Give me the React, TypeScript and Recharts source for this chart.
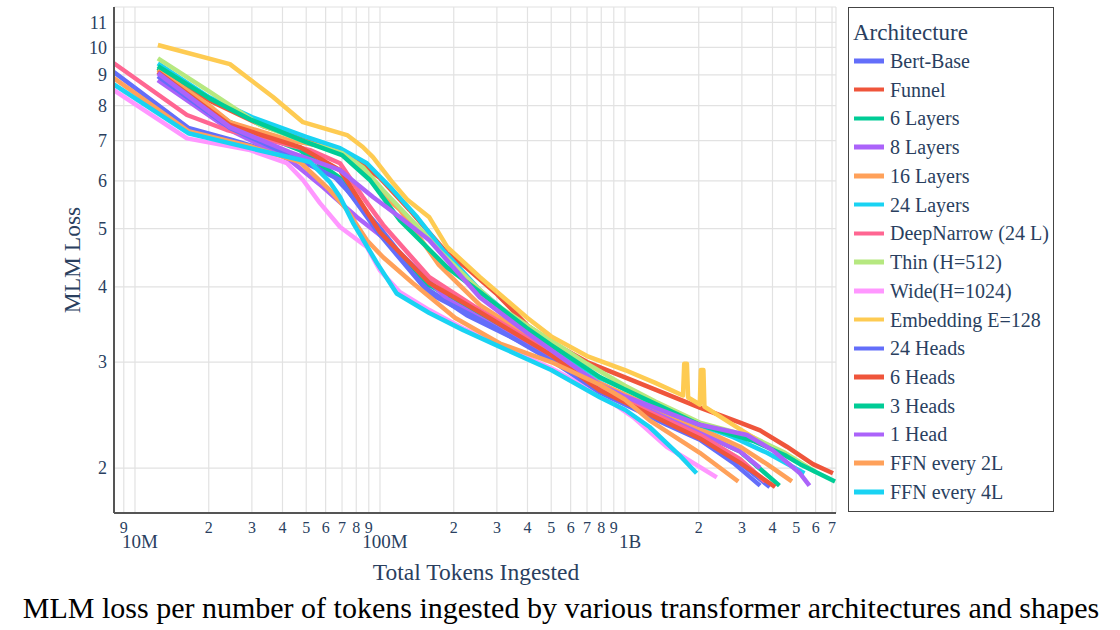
import { LineChart, Line, XAxis, YAxis, CartesianGrid } from "recharts";

type Pt = [number, number];

// [tokens ingested (millions), MLM loss]
const bertBase: Pt[] = [[8.2, 9.1], [16.5, 7.35], [25.1, 7.01], [47.1, 6.5], [62.5, 6.2], [73.4, 5.79], [100, 5.01], [159, 3.95], [226, 3.59], [400, 3.2], [500, 3.04], [792, 2.67], [1000, 2.58], [1480, 2.4], [2020, 2.25], [2770, 2.08], [3900, 1.86]];
const funnel: Pt[] = [[12.4, 9.24], [20, 8.17], [33.3, 7.4], [50, 7.01], [70, 6.75], [100, 6.07], [132, 5.37], [188, 4.55], [226, 4.3], [300, 3.89], [400, 3.45], [500, 3.24], [700, 3.0], [1000, 2.83], [1330, 2.7], [2020, 2.52], [2950, 2.38], [3560, 2.31], [4580, 2.17], [5850, 2.03], [7060, 1.96]];
const sixLayers: Pt[] = [[12.4, 9.24], [24.4, 7.51], [47.1, 6.75], [68.7, 6.07], [100, 4.93], [159, 4.03], [256, 3.59], [500, 3.02], [792, 2.7], [1080, 2.59], [2020, 2.29], [2950, 2.13], [4270, 1.87]];
const eightLayers: Pt[] = [[12.4, 8.82], [24.4, 7.29], [42.8, 6.5], [58.5, 5.86], [80.6, 5.22], [110, 4.73], [188, 3.82], [300, 3.42], [500, 3.06], [792, 2.72], [2020, 2.29], [2950, 2.13], [3560, 2.0]];
const sixteenLayers: Pt[] = [[12.4, 9.17], [20, 8.02], [24.4, 7.51], [42.8, 7.01], [64.3, 6.8], [80.6, 6.42], [103, 5.68], [120.7, 5.37], [174, 4.35], [256, 3.73], [400, 3.32], [500, 3.08], [792, 2.77], [1000, 2.65], [2020, 2.33], [2950, 2.17], [3800, 2.03], [4800, 1.9]];
const twentyFourLayers: Pt[] = [[12.4, 9.41], [20, 8.27], [30, 7.66], [50, 7.1], [68.7, 6.8], [88.4, 6.42], [110, 5.86], [142, 5.22], [181, 4.6], [256, 3.95], [330, 3.62], [500, 3.16], [792, 2.82], [1080, 2.67], [1480, 2.48], [2020, 2.36], [2770, 2.25], [3800, 2.12], [5400, 1.96]];
const deepNarrow: Pt[] = [[8.2, 9.41], [16.3, 7.72], [23.7, 7.29], [35.5, 7.01], [51.8, 6.75], [68.7, 6.42], [85.1, 5.64], [103, 5.07], [159, 4.15], [256, 3.66], [500, 3.11], [792, 2.7], [2020, 2.27], [2950, 2.07], [3730, 1.9]];
const thin: Pt[] = [[12.4, 9.59], [20, 8.46], [32.4, 7.43], [50, 6.96], [70, 6.67], [85.1, 6.32], [103, 5.79], [150, 4.93], [174, 4.6], [232, 4.1], [300, 3.73], [400, 3.45], [500, 3.26], [700, 2.98], [1000, 2.74], [1330, 2.58], [2020, 2.38], [3330, 2.25], [4500, 2.12], [6000, 1.97]];
const wide: Pt[] = [[8.2, 8.49], [16.3, 7.06], [29.5, 6.75], [41.7, 6.42], [48.5, 6.02], [56.9, 5.51], [68.7, 5.03], [88.4, 4.66], [100, 4.26], [120.7, 3.92], [159, 3.66], [219, 3.41], [309, 3.2], [500, 2.93], [792, 2.65], [1080, 2.43], [1480, 2.17], [2370, 1.93]];
const embedding: Pt[] = [[12.4, 10.09], [24.4, 9.38], [36.6, 8.27], [48.5, 7.51], [73.4, 7.15], [85.1, 6.83], [93.6, 6.57], [113, 5.95], [129, 5.59], [159, 5.22], [188, 4.66], [256, 4.15], [400, 3.55], [500, 3.31], [700, 3.07], [1000, 2.91], [1330, 2.77], [1725, 2.64], [1745, 2.98], [1790, 2.98], [1810, 2.62], [2020, 2.55], [2040, 2.91], [2090, 2.91], [2110, 2.53], [3000, 2.31], [3450, 2.23]];
const twentyFourHeads: Pt[] = [[12.4, 8.96], [24.4, 7.35], [42.8, 6.62], [68.7, 6.02], [100, 4.88], [159, 3.9], [300, 3.41], [500, 3.02], [792, 2.67], [1480, 2.36], [2020, 2.23], [2770, 2.04], [3560, 1.87]];
const sixHeads: Pt[] = [[12.4, 9.1], [24.4, 7.43], [47.1, 6.83], [68.7, 6.25], [100, 4.93], [159, 4.06], [256, 3.63], [500, 3.08], [792, 2.69], [2020, 2.24], [2950, 2.04], [4100, 1.86]];
const threeHeads: Pt[] = [[12.4, 9.31], [20, 8.24], [30, 7.57], [50, 6.96], [70, 6.62], [91, 6.02], [120.7, 5.16], [188, 4.31], [256, 3.92], [400, 3.41], [500, 3.2], [792, 2.83], [1000, 2.7], [2020, 2.36], [3330, 2.22], [4500, 2.1], [5180, 2.03], [7200, 1.9]];
const oneHead: Pt[] = [[12.4, 9.06], [24.4, 7.37], [42.8, 6.7], [68.7, 6.25], [93.6, 5.64], [120.7, 5.22], [159, 4.78], [256, 3.84], [400, 3.35], [500, 3.14], [792, 2.75], [1000, 2.63], [2020, 2.36], [3150, 2.27], [4010, 2.14], [5180, 1.96], [5660, 1.87]];
const ffnEvery2L: Pt[] = [[8.2, 8.89], [16.5, 7.26], [29.5, 6.85], [47.1, 6.45], [62.5, 5.79], [73.4, 5.37], [88.4, 4.78], [103, 4.48], [136, 4.06], [203, 3.55], [309, 3.22], [500, 3.0], [792, 2.75], [1000, 2.6], [1260, 2.4], [2020, 2.12], [2900, 1.9]];
const ffnEvery4L: Pt[] = [[8.2, 8.68], [16.5, 7.2], [29.5, 6.8], [51.8, 6.45], [62.5, 5.97], [68.7, 5.64], [77.6, 5.11], [97.3, 4.38], [117, 3.9], [159, 3.62], [219, 3.39], [309, 3.18], [500, 2.91], [792, 2.62], [1000, 2.5], [1260, 2.34], [1670, 2.1], [1960, 1.96]];

const architectures = ["Bert-Base", "Funnel", "6 Layers", "8 Layers", "16 Layers", "24 Layers", "DeepNarrow (24 L)", "Thin (H=512)", "Wide(H=1024)", "Embedding E=128", "24 Heads", "6 Heads", "3 Heads", "1 Head", "FFN every 2L", "FFN every 4L"];
const curves = [bertBase, funnel, sixLayers, eightLayers, sixteenLayers, twentyFourLayers, deepNarrow, thin, wide, embedding, twentyFourHeads, sixHeads, threeHeads, oneHead, ffnEvery2L, ffnEvery4L];
const colors = ["#636efa", "#EF553B", "#00cc96", "#ab63fa", "#FFA15A", "#19d3f3", "#FF6692", "#B6E880", "#FF97FF", "#FECB52", "#636efa", "#EF553B", "#00cc96", "#ab63fa", "#FFA15A", "#19d3f3"];

const tokenTicks = [9, 10, 20, 30, 40, 50, 60, 70, 80, 90, 100, 200, 300, 400, 500, 600, 700, 800, 900, 1000, 2000, 3000, 4000, 5000, 6000, 7000];
const tokenTickLabels = ["9", "10M", "2", "3", "4", "5", "6", "7", "8", "9", "100M", "2", "3", "4", "5", "6", "7", "8", "9", "1B", "2", "3", "4", "5", "6", "7"];
const lossTicks = [2, 3, 4, 5, 6, 7, 8, 9, 10, 11];

const INK = "#2a3f5f";
const SERIF = "'Liberation Serif', 'Times New Roman', serif";

function TokenTick({ x, y, payload }: any) {
  const label = tokenTickLabels[tokenTicks.indexOf(payload.value)] ?? "";
  const major = /[A-Z]/.test(label);
  return major ? (
    <text x={x + 5} y={y + 35} textAnchor="middle" fontSize={19} fill={INK} fontFamily={SERIF}>
      {label}
    </text>
  ) : (
    <text x={x} y={y + 20} textAnchor="middle" fontSize={16} fill={INK} fontFamily={SERIF}>
      {label}
    </text>
  );
}

export default function App() {
  return (
    <div style={{ position: "absolute", left: 0, top: 0, width: 1120, height: 630, background: "#fff", fontFamily: SERIF }}>
      <LineChart width={1120} height={630} margin={{ top: 7, right: 284, bottom: 0, left: 0 }}>
        <CartesianGrid stroke="#e2e2e2" strokeWidth={1.2} />
        <XAxis
          type="number"
          dataKey="x"
          scale="log"
          domain={[8.21, 7266]}
          allowDataOverflow
          ticks={tokenTicks}
          interval={0}
          height={117}
          tickSize={0}
          tickMargin={0}
          tickLine={false}
          axisLine={{ stroke: "#555", strokeWidth: 2 }}
          tick={<TokenTick />}
        />
        <YAxis
          type="number"
          scale="log"
          domain={[1.684, 11.67]}
          allowDataOverflow
          ticks={lossTicks}
          interval={0}
          width={114}
          tickSize={0}
          tickMargin={7}
          tickLine={false}
          axisLine={{ stroke: "#555", strokeWidth: 2 }}
          tick={{ fontSize: 18, fill: INK, fontFamily: SERIF }}
        />
        {curves.map((pts, i) => (
          <Line
            key={architectures[i]}
            name={architectures[i]}
            data={pts.map(([x, y]) => ({ x, y }))}
            dataKey="y"
            type="linear"
            stroke={colors[i]}
            strokeWidth={4.5}
            strokeLinejoin="round"
            dot={false}
            activeDot={false}
            isAnimationActive={false}
          />
        ))}
      </LineChart>

      <div style={{ position: "absolute", left: 72, top: 260, transform: "translate(-50%, -50%) rotate(-90deg)", fontSize: 23.5, color: INK, whiteSpace: "nowrap" }}>
        MLM Loss
      </div>
      <div style={{ position: "absolute", left: 476, top: 572, transform: "translate(-50%, -50%)", fontSize: 23.5, color: INK, whiteSpace: "nowrap" }}>
        Total Tokens Ingested
      </div>
      <div style={{ position: "absolute", left: 561, top: 608, transform: "translate(-50%, -50%)", fontSize: 30, color: "#000", whiteSpace: "nowrap" }}>
        MLM loss per number of tokens ingested by various transformer architectures and shapes
      </div>

      <div style={{ position: "absolute", left: 848, top: 7, width: 206, height: 505, border: "1px solid #444", boxSizing: "border-box" }}>
        <div style={{ position: "absolute", left: 4, top: 32 - 7, transform: "translateY(-50%)", fontSize: 23, color: INK, whiteSpace: "nowrap" }}>
          Architecture
        </div>
        {architectures.map((name, i) => (
          <div key={name} style={{ position: "absolute", left: 5, top: 60 - 7 + i * 28.73, transform: "translateY(-50%)", display: "flex", alignItems: "center", whiteSpace: "nowrap" }}>
            <span style={{ display: "inline-block", width: 30, height: 4.5, background: colors[i], marginRight: 6 }} />
            <span style={{ fontSize: 20, color: INK }}>{name}</span>
          </div>
        ))}
      </div>
    </div>
  );
}
